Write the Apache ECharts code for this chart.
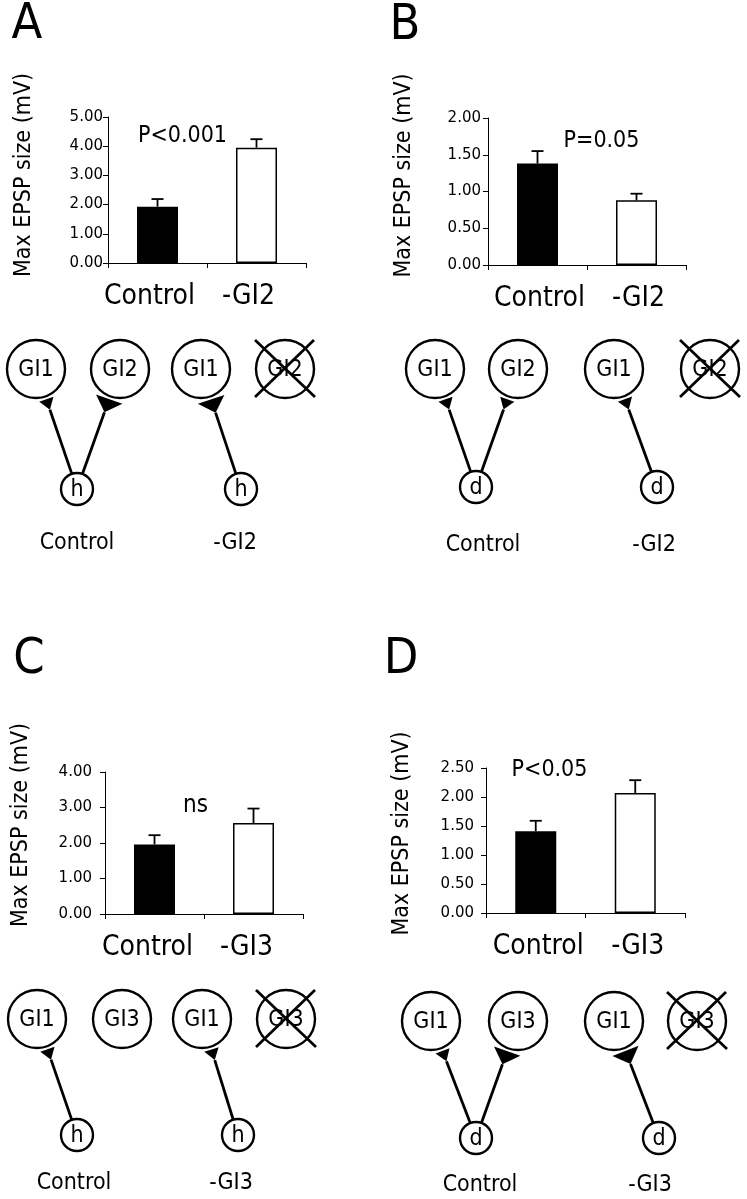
<!DOCTYPE html>
<html><head><meta charset="utf-8">
<script src="https://cdn.jsdelivr.net/npm/echarts@6/dist/echarts.min.js"></script>
<style>html,body{margin:0;padding:0;background:#fff}#c{width:747px;height:1199px}</style>
</head><body><div id="c"></div>
<script>
// ---------------- data ----------------
const catsGI2 = ['Control', '-GI2'];
const catsGI3 = ['Control', '-GI3'];
const meanA = [1.93, 3.95], semA = [0.26, 0.29];
const meanB = [1.38, 0.88], semB = [0.17, 0.09];
const meanC = [1.96, 2.56], semC = [0.26, 0.41];
const meanD = [1.41, 2.07], semD = [0.18, 0.22];
const yMax = [5, 2, 4, 2.5];
const yStep = [1, 0.5, 1, 0.5];
const yName = 'Max EPSP size (mV)';
const statLabels = ['P<0.001', 'P=0.05', 'ns', 'P<0.05'];
const panelLetters = ['A', 'B', 'C', 'D'];
const cellsGI2 = ['GI1', 'GI2', 'GI1', 'GI2'];
const cellsGI3 = ['GI1', 'GI3', 'GI1', 'GI3'];
const removedCell = 3;               // crossed-out neuron in each diagram
const preA = 'h', preB = 'd', preC = 'h', preD = 'd';
// synapses: [presynaptic neuron (0 = control, 1 = deletion), target cell, strength (1 weak, 2 strong)]
const synA = [[0, 0, 1], [0, 1, 2], [1, 2, 2]];
const synB = [[0, 0, 1], [0, 1, 1], [1, 2, 1]];
const synC = [[0, 0, 1], [1, 2, 1]];
const synD = [[0, 0, 1], [0, 1, 2], [1, 2, 2]];

// ---------------- layout / style ----------------
const COND = '"DejaVu Sans Condensed","DejaVu Sans",sans-serif';
const panelData = [
  {cats: catsGI2, mean: meanA, sem: semA},
  {cats: catsGI2, mean: meanB, sem: semB},
  {cats: catsGI3, mean: meanC, sem: semC},
  {cats: catsGI3, mean: meanD, sem: semD}
];
const gridsL = [
  {left: 108, top: 117, width: 198, height: 146},
  {left: 488, top: 118, width: 198, height: 147},
  {left: 105, top: 772, width: 198, height: 142},
  {left: 486, top: 768, width: 199, height: 145}
];
const tickMargin = [6, 8, 14, 13];
const namePad = [30, 32, 36, 14];
const xPad = [[0, 16, 0, 0], [0, 0, 0, 4], [0, 14, 0, 0], [0, 0, 0, 5]];
const letterPos = [[27, 25], [405, 26], [29, 660], [401, 660]];
const statPos = [[182.5, 136.5], [601.5, 141.5], [195.5, 806], [549.5, 770.5]];
const diag = [
  {ox: 0,   rowY: 369,  cellX: [36, 120, 201, 285], preX: [77, 241],  preY: 489,  labY: 543,  cells: cellsGI2, pre: preA, syn: synA, labs: catsGI2, labX: [77, 235]},
  {ox: 373, rowY: 369,  cellX: [62, 145, 241, 337], preX: [103, 284], preY: 487,  labY: 545,  cells: cellsGI2, pre: preB, syn: synB, labs: catsGI2, labX: [110, 281]},
  {ox: 0,   rowY: 1019, cellX: [37, 122, 202, 286], preX: [77, 238],  preY: 1135, labY: 1183, cells: cellsGI3, pre: preC, syn: synC, labs: catsGI3, labX: [74, 231]},
  {ox: 373, rowY: 1021, cellX: [58, 145, 241, 324], preX: [103, 286], preY: 1138, labY: 1185, cells: cellsGI3, pre: preD, syn: synD, labs: catsGI3, labX: [107, 277]}
];
const R_BIG = 29, R_SMALL = 16;

// build diagram element list
const items = [];
diag.forEach(d => {
  d.cells.forEach((t, i) => items.push({k: 'cell', x: d.ox + d.cellX[i], y: d.rowY, r: R_BIG, t, cross: i === removedCell}));
  d.preX.forEach(px => items.push({k: 'cell', x: d.ox + px, y: d.preY, r: R_SMALL, t: d.pre, cross: false}));
  d.syn.forEach(s => items.push({k: 'syn', x: d.ox + d.preX[s[0]], y: d.preY, x2: d.ox + d.cellX[s[1]], y2: d.rowY, s: s[2]}));
});

function diagRender(params, api) {
  const it = items[params.dataIndex];
  const p = api.coord([it.x, it.y]);
  if (it.k === 'cell') {
    const ch = [
      {type: 'circle', shape: {cx: p[0], cy: p[1], r: it.r}, style: {fill: '#fff', stroke: '#000', lineWidth: 2.4}},
      {type: 'text', style: {text: it.t, x: p[0], y: p[1] + 1, font: '23px ' + COND, fill: '#000', align: 'center', verticalAlign: 'middle', textAlign: 'center', textVerticalAlign: 'middle'}}
    ];
    if (it.cross) {
      ch.push({type: 'line', shape: {x1: p[0] - 30, y1: p[1] - 29, x2: p[0] + 30, y2: p[1] + 28}, style: {stroke: '#000', lineWidth: 2.7}});
      ch.push({type: 'line', shape: {x1: p[0] + 29, y1: p[1] - 29, x2: p[0] - 30, y2: p[1] + 28}, style: {stroke: '#000', lineWidth: 2.7}});
    }
    return {type: 'group', children: ch};
  }
  const q = api.coord([it.x2, it.y2]);
  const dx = q[0] - p[0], dy = q[1] - p[1], L = Math.hypot(dx, dy);
  const ux = dx / L, uy = dy / L, nx = -uy, ny = ux;
  const sx = p[0] + ux * R_SMALL, sy = p[1] + uy * R_SMALL;
  const bmx = q[0] - ux * (R_BIG + 3), bmy = q[1] - uy * (R_BIG + 3);
  const h = it.s === 2 ? 14 : 11, w = it.s === 2 ? 28 : 15;
  const ax = bmx - ux * h, ay = bmy - uy * h;
  return {type: 'group', children: [
    {type: 'line', shape: {x1: sx, y1: sy, x2: ax, y2: ay}, style: {stroke: '#000', lineWidth: 2.8}},
    {type: 'polygon', shape: {points: [[bmx + nx * w / 2, bmy + ny * w / 2], [bmx - nx * w / 2, bmy - ny * w / 2], [ax, ay]]}, style: {fill: '#000'}}
  ]};
}

function errRender(params, api) {
  const x = api.value(0), v = api.value(1), e = api.value(2);
  const b = api.coord([x, v]), t = api.coord([x, v + e]);
  const cw = 6;
  return {type: 'group', children: [
    {type: 'line', shape: {x1: b[0], y1: b[1], x2: t[0], y2: t[1]}, style: {stroke: '#000', lineWidth: 1.8}},
    {type: 'line', shape: {x1: t[0] - cw, y1: t[1], x2: t[0] + cw, y2: t[1]}, style: {stroke: '#000', lineWidth: 1.8}}
  ]};
}

const grid = gridsL.concat([{left: 0, top: 0, width: 747, height: 1199}]);
const xAxis = panelData.map((pd, i) => ({
  type: 'category', gridIndex: i, data: pd.cats,
  axisLine: {lineStyle: {color: '#000', width: 1}},
  axisTick: {show: true, length: 5, lineStyle: {color: '#000'}},
  axisLabel: {interval: 0, color: '#000', fontFamily: COND, fontSize: 28, margin: 20, padding: xPad[i]}
})).concat([{type: 'value', gridIndex: 4, min: 0, max: 747, show: false}]);
const yAxis = panelData.map((pd, i) => ({
  type: 'value', gridIndex: i, min: 0, max: yMax[i], interval: yStep[i],
  name: yName, nameLocation: 'middle', nameGap: 72,
  nameTextStyle: {color: '#000', fontFamily: COND, fontSize: 23, padding: [0, 0, 0, namePad[i]]},
  axisLine: {show: true, lineStyle: {color: '#000', width: 1}},
  axisTick: {show: true, length: 5, lineStyle: {color: '#000'}},
  splitLine: {show: false},
  axisLabel: {color: '#000', fontFamily: '"DejaVu Sans",sans-serif', fontSize: 15, margin: tickMargin[i] - 1, formatter: v => v.toFixed(2)}
})).concat([{type: 'value', gridIndex: 4, min: 0, max: 1199, inverse: true, show: false}]);

const series = [];
panelData.forEach((pd, i) => {
  series.push({
    type: 'bar', xAxisIndex: i, yAxisIndex: i, barWidth: 41, silent: true,
    data: pd.mean.map((v, k) => ({value: v, itemStyle: k === 0 ? {color: '#000'} : {color: '#fff', borderColor: '#000', borderWidth: 1.5}}))
  });
  series.push({
    type: 'custom', xAxisIndex: i, yAxisIndex: i, z: 5, silent: true,
    data: pd.mean.map((v, k) => [k, v, pd.sem[k]]), encode: {x: 0, y: 1}, renderItem: errRender
  });
});
series.push({
  type: 'custom', xAxisIndex: 4, yAxisIndex: 4, silent: true, clip: false,
  data: items.map(it => [it.x, it.y]), encode: {x: 0, y: 1}, renderItem: diagRender
});

const txt = (text, x, y, size) => ({type: 'text', x, y, silent: true,
  style: {text, font: size + 'px ' + COND, fill: '#000', align: 'center', verticalAlign: 'middle', textAlign: 'center', textVerticalAlign: 'middle'}});
const graphic = [];
panelLetters.forEach((l, i) => graphic.push(txt(l, letterPos[i][0], letterPos[i][1], 50)));
statLabels.forEach((s, i) => graphic.push(txt(s, statPos[i][0], statPos[i][1], i === 2 ? 24 : 23)));
diag.forEach(d => d.labs.forEach((l, j) => graphic.push(txt(l, d.ox + d.labX[j], d.labY, 23))));

const chart = echarts.init(document.getElementById('c'), null, {renderer: 'canvas'});
chart.setOption({animation: false, backgroundColor: '#fff', grid, xAxis, yAxis, series, graphic});
</script></body></html>
